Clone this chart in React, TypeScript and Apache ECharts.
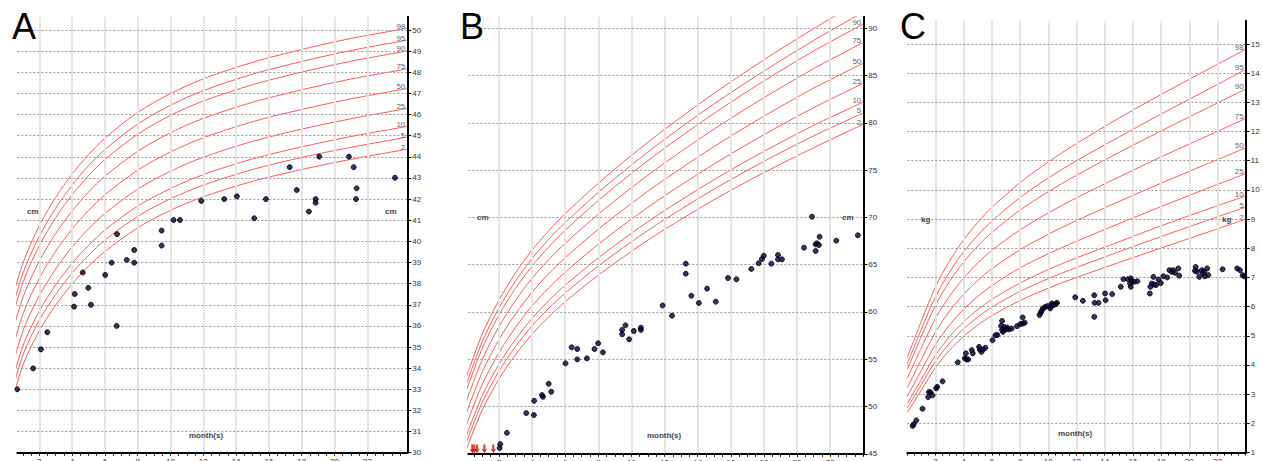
import React, { useEffect, useRef } from 'react';
import * as echarts from 'echarts';

const FONT = 'Liberation Sans, Arial, sans-serif';
const PERCENTILES = ['98', '95', '90', '75', '50', '25', '10', '5', '2'];
const X_LABELS = [2, 4, 6, 8, 10, 12, 14, 16, 18, 20, 22];

// ---------- Panel A : head circumference (cm) ----------
const A_MONTHS = [0, 1, 2, 3, 4, 5, 6, 8, 10, 12, 15, 18, 21, 24, 24.44];
const A_P98 = [36.31, 38.96, 40.74, 42.08, 43.18, 44.1, 44.88, 46.1, 46.99, 47.69, 48.47, 49.08, 49.6, 50.02, 50.08];
const A_P95 = [35.83, 38.48, 40.24, 41.57, 42.66, 43.58, 44.34, 45.55, 46.44, 47.13, 47.91, 48.51, 49.03, 49.46, 49.52];
const A_P90 = [35.4, 38.05, 39.8, 41.12, 42.2, 43.11, 43.87, 45.07, 45.96, 46.64, 47.41, 48.01, 48.52, 48.95, 49.01];
const A_P75 = [34.68, 37.34, 39.07, 40.37, 41.43, 42.33, 43.08, 44.26, 45.14, 45.82, 46.58, 47.17, 47.68, 48.1, 48.16];
const A_P50 = [33.88, 36.55, 38.25, 39.53, 40.58, 41.46, 42.2, 43.37, 44.23, 44.9, 45.66, 46.24, 46.74, 47.17, 47.23];
const A_P25 = [33.08, 35.76, 37.43, 38.69, 39.73, 40.59, 41.32, 42.47, 43.32, 43.98, 44.73, 45.31, 45.8, 46.23, 46.29];
const A_P10 = [32.36, 35.05, 36.7, 37.94, 38.96, 39.81, 40.53, 41.67, 42.5, 43.16, 43.9, 44.47, 44.96, 45.38, 45.44];
const A_P5 = [31.93, 34.62, 36.26, 37.49, 38.5, 39.34, 40.06, 41.18, 42.02, 42.66, 43.4, 43.97, 44.45, 44.87, 44.93];
const A_P2 = [31.45, 34.14, 35.76, 36.98, 37.98, 38.82, 39.52, 40.64, 41.47, 42.11, 42.84, 43.4, 43.88, 44.3, 44.36];
const A_TICKS = [30, 31, 32, 33, 34, 35, 36, 37, 38, 39, 40, 41, 42, 43, 44, 45, 46, 47, 48, 49, 50];
const A_DOT_X = [0.66, 1.63, 2.1, 2.49, 4.12, 4.16, 4.65, 4.99, 5.15, 6.02, 6.41, 6.72, 6.74, 7.33, 7.79, 7.79, 9.46, 9.46, 10.19, 10.58, 11.88, 13.28, 14.05, 15.11, 15.82, 17.27, 17.7, 18.44, 18.85, 18.85, 19.07, 20.88, 21.17, 21.35, 21.31, 23.69];
const A_DOT_Y = [33.0, 33.99, 34.89, 35.7, 36.91, 37.51, 38.53, 37.8, 37.0, 38.41, 38.99, 36.0, 40.34, 39.12, 39.59, 38.99, 40.51, 39.8, 41.01, 41.01, 41.91, 42.0, 42.13, 41.09, 42.0, 43.51, 42.43, 41.41, 42.0, 41.83, 44.01, 44.01, 43.51, 42.51, 42.0, 43.01];

// ---------- Panel B : length (cm) ----------
const B_MONTHS = [0, 1, 2, 3, 4, 5, 6, 8, 10, 12, 15, 18, 21, 24];
const B_P98 = [52.97, 57.7, 61.25, 64.13, 66.54, 68.58, 70.39, 73.61, 76.55, 79.31, 83.14, 86.67, 89.97, 93.04];
const B_P95 = [52.21, 56.9, 60.42, 63.27, 65.65, 67.68, 69.46, 72.64, 75.54, 78.25, 82.02, 85.48, 88.71, 91.72];
const B_P90 = [51.54, 56.19, 59.68, 62.5, 64.86, 66.87, 68.64, 71.78, 74.65, 77.32, 81.02, 84.43, 87.6, 90.45];
const B_P75 = [50.4, 55.0, 58.44, 61.22, 63.55, 65.52, 67.26, 70.34, 73.14, 75.75, 79.36, 82.66, 85.73, 88.5];
const B_P50 = [49.15, 53.69, 57.07, 59.8, 62.09, 64.03, 65.73, 68.75, 71.48, 74.02, 77.51, 80.71, 83.67, 86.3];
const B_P25 = [47.89, 52.37, 55.69, 58.38, 60.63, 62.54, 64.2, 67.16, 69.82, 72.28, 75.66, 78.75, 81.6, 84.2];
const B_P10 = [46.76, 51.18, 54.46, 57.1, 59.32, 61.19, 62.83, 65.72, 68.32, 70.72, 74.0, 76.99, 79.73, 82.2];
const B_P5 = [46.08, 50.47, 53.72, 56.34, 58.53, 60.38, 62.0, 64.86, 67.42, 69.78, 73.0, 75.93, 78.62, 81.05];
const B_P2 = [45.32, 49.67, 52.89, 55.48, 57.64, 59.48, 61.08, 63.89, 66.41, 68.73, 71.88, 74.74, 77.37, 79.85];
const B_TICKS = [45, 50, 55, 60, 65, 70, 75, 80, 85, 90];
const B_DOT_X = [2.04, 2.08, 2.48, 3.65, 4.11, 4.13, 4.6, 4.66, 5.0, 5.16, 6.02, 6.39, 6.73, 6.73, 7.31, 7.77, 7.99, 8.28, 9.44, 9.44, 9.64, 9.86, 10.14, 10.57, 10.57, 11.88, 12.45, 13.28, 13.28, 13.62, 14.07, 14.57, 15.09, 15.83, 16.34, 17.24, 17.68, 17.88, 17.99, 18.45, 18.85, 18.85, 19.09, 20.42, 20.9, 21.12, 21.12, 21.2, 21.32, 21.36, 22.37, 23.67];
const B_DOT_Y = [45.61, 46.03, 47.22, 49.31, 49.1, 50.61, 51.21, 51.03, 52.41, 51.56, 54.57, 56.26, 56.08, 54.99, 55.09, 56.08, 56.69, 55.73, 58.1, 57.64, 58.59, 57.11, 57.99, 58.34, 58.1, 60.69, 59.61, 65.11, 64.05, 61.72, 60.95, 62.47, 61.09, 63.59, 63.46, 64.55, 65.15, 65.6, 65.95, 65.11, 66.03, 65.57, 65.57, 66.8, 70.08, 66.45, 67.16, 67.26, 67.08, 67.96, 67.54, 68.11];
// measurements below the axis range (red arrows)
const B_BELOW_X = [0.39, 0.51, 0.68, 1.12, 1.66];
const B_BELOW_Y = [45.5, 45.5, 45.5, 45.5, 45.5];

// ---------- Panel C : weight (kg) ----------
const C_MONTHS = [0, 1, 2, 3, 4, 5, 6, 8, 10, 12, 15, 18, 21, 24];
const C_P98 = [4.26, 5.51, 6.68, 7.57, 8.29, 8.89, 9.4, 10.25, 10.96, 11.59, 12.46, 13.27, 14.05, 14.82];
const C_P95 = [4.04, 5.23, 6.34, 7.19, 7.88, 8.45, 8.93, 9.74, 10.41, 11.0, 11.81, 12.6, 13.36, 14.13];
const C_P90 = [3.85, 4.98, 6.05, 6.87, 7.53, 8.08, 8.54, 9.31, 9.94, 10.5, 11.28, 12.02, 12.74, 13.46];
const C_P75 = [3.55, 4.59, 5.6, 6.36, 6.98, 7.5, 7.93, 8.63, 9.21, 9.73, 10.44, 11.13, 11.79, 12.45];
const C_P50 = [3.23, 4.19, 5.13, 5.85, 6.42, 6.9, 7.3, 7.95, 8.48, 8.95, 9.6, 10.23, 10.84, 11.44];
const C_P25 = [2.93, 3.82, 4.7, 5.37, 5.91, 6.35, 6.72, 7.33, 7.81, 8.24, 8.84, 9.43, 10.0, 10.56];
const C_P10 = [2.68, 3.5, 4.34, 4.97, 5.48, 5.9, 6.25, 6.81, 7.27, 7.67, 8.22, 8.77, 9.29, 9.79];
const C_P5 = [2.53, 3.33, 4.13, 4.75, 5.24, 5.64, 5.98, 6.52, 6.96, 7.34, 7.88, 8.4, 8.91, 9.41];
const C_P2 = [2.37, 3.14, 3.91, 4.51, 4.98, 5.37, 5.69, 6.21, 6.63, 7.0, 7.51, 8.01, 8.5, 9.0];
const C_TICKS = [1, 2, 3, 4, 5, 6, 7, 8, 9, 10, 11, 12, 13, 14, 15];
const C_DOT_X = [0.38, 0.45, 0.64, 1.08, 1.48, 1.53, 1.65, 1.79, 2.05, 2.12, 2.5, 3.58, 4.08, 4.15, 4.2, 4.32, 4.57, 4.64, 5.09, 5.14, 5.26, 5.38, 5.54, 6.04, 6.25, 6.39, 6.65, 6.72, 6.72, 6.79, 6.9, 7.0, 7.1, 7.2, 7.4, 7.78, 8.02, 8.2, 8.33, 8.18, 9.38, 9.46, 9.53, 9.63, 9.79, 9.95, 10.14, 10.21, 10.26, 10.38, 10.54, 10.62, 11.91, 12.45, 13.26, 13.26, 13.28, 13.56, 14.03, 14.06, 14.53, 15.14, 15.33, 15.64, 15.85, 15.8, 15.92, 16.09, 16.32, 15.85, 17.2, 17.24, 17.34, 17.45, 17.5, 17.64, 17.81, 17.98, 18.16, 18.44, 18.59, 18.75, 18.85, 18.99, 19.22, 19.29, 20.45, 20.4, 20.55, 20.71, 20.88, 20.95, 21.11, 21.27, 21.35, 21.05, 22.36, 23.4, 23.59, 23.78, 23.89];
const C_DOT_Y = [1.91, 1.97, 2.1, 2.5, 2.9, 3.07, 3.06, 2.96, 3.2, 3.25, 3.44, 4.09, 4.23, 4.4, 4.19, 4.19, 4.51, 4.4, 4.62, 4.53, 4.45, 4.53, 4.59, 4.85, 5.02, 5.03, 5.34, 5.51, 5.2, 5.14, 5.3, 5.22, 5.28, 5.22, 5.25, 5.33, 5.4, 5.42, 5.45, 5.63, 5.71, 5.79, 5.86, 5.94, 5.99, 6.02, 5.94, 6.02, 6.11, 6.05, 6.09, 6.13, 6.32, 6.2, 6.39, 5.65, 6.13, 6.13, 6.45, 6.22, 6.43, 6.68, 6.94, 6.94, 6.97, 6.79, 6.87, 6.85, 6.87, 6.68, 6.45, 6.68, 6.79, 7.02, 6.76, 6.74, 6.93, 6.81, 7.04, 7.0, 7.25, 7.19, 7.25, 7.16, 7.31, 7.06, 7.36, 7.23, 7.2, 7.02, 7.25, 7.15, 7.04, 7.31, 7.08, 7.2, 7.28, 7.31, 7.25, 7.08, 7.04];

const ARROW = 'path://M3,0L7,0L7,6L10,6L5,12L0,6L3,6Z';

function pair(xs: number[], ys: number[]) {
  return xs.map((x, i) => [x, ys[i]]);
}

function curveSeries(idx: number, months: number[], curves: number[][], yMax: number) {
  return curves.map((vals, k) => ({
    type: 'line',
    name: PERCENTILES[k],
    xAxisIndex: idx,
    yAxisIndex: idx,
    data: pair(months, vals),
    smooth: 0.3,
    showSymbol: false,
    symbol: 'none',
    silent: true,
    clip: true,
    z: 3,
    lineStyle: { color: '#ff5a5a', width: 1 },
    endLabel: {
      show: vals[vals.length - 1] < yMax,
      formatter: PERCENTILES[k],
      color: '#666',
      fontSize: 8,
      fontFamily: FONT,
      distance: 0,
      align: 'right',
      verticalAlign: 'middle',
      offset: [-2, -2],
    },
  }));
}

function gridSeries(idx: number, x0: number, y0: number, yTicks: number[]) {
  return {
    type: 'line',
    xAxisIndex: idx,
    yAxisIndex: idx,
    data: [[x0, y0]],
    symbol: 'none',
    silent: true,
    z: 1,
    lineStyle: { opacity: 0 },
    markLine: {
      silent: true,
      symbol: ['none', 'none'],
      label: { show: false },
      animation: false,
      data: [
        ...X_LABELS.map((v) => ({ xAxis: v, lineStyle: { color: '#e6e6e6', width: 2, type: 'solid' } })),
        ...yTicks.map((v) => ({ yAxis: v, lineStyle: { color: '#9a9a9a', width: 1, type: [2, 2] } })),
      ],
    },
  };
}

function dotSeries(idx: number, xs: number[], ys: number[]) {
  return {
    type: 'scatter',
    xAxisIndex: idx,
    yAxisIndex: idx,
    data: pair(xs, ys),
    symbolSize: 5,
    silent: true,
    z: 5,
    itemStyle: { color: '#00003c', borderColor: '#000', borderWidth: 1 },
  };
}

function xAxis(idx: number, min: number, max: number) {
  const ticks: number[] = [];
  for (let v = Math.ceil(min * 2) / 2; v <= max + 1e-9; v += 0.5) ticks.push(v);
  return {
    gridIndex: idx,
    type: 'value',
    min,
    max,
    z: 10,
    axisLine: { show: true, onZero: false, lineStyle: { color: '#000', width: 2 } },
    axisTick: { show: true, length: 3, customValues: ticks, lineStyle: { color: '#000', width: 1 } },
    axisLabel: { customValues: X_LABELS, margin: 5, fontSize: 8, color: '#333', fontFamily: FONT },
    splitLine: { show: false },
  };
}

function yAxis(idx: number, min: number, max: number, ticks: number[]) {
  return {
    gridIndex: idx,
    type: 'value',
    position: 'right',
    min,
    max,
    z: 10,
    axisLine: { show: true, onZero: false, lineStyle: { color: '#000', width: 2 } },
    axisTick: { show: true, length: 4, customValues: ticks, lineStyle: { color: '#000', width: 1 } },
    axisLabel: { customValues: ticks, margin: 5, fontSize: 8, color: '#333', fontFamily: FONT },
    splitLine: { show: false },
  };
}

function txt(x: number, y: number, text: string, size: number, opts: any = {}) {
  return {
    type: 'text',
    x,
    y,
    silent: true,
    z: 20,
    style: {
      text,
      fontSize: size,
      fontFamily: FONT,
      fill: opts.fill || '#444',
      fontWeight: opts.bold ? 'bold' : 'normal',
      textAlign: opts.align || 'left',
      textVerticalAlign: 'middle',
    },
  };
}

export default function App() {
  const ref = useRef<HTMLDivElement>(null);
  useEffect(() => {
    if (!ref.current) return;
    const chart = echarts.init(ref.current, undefined, { renderer: 'svg' });
    const A_MAX = 50.63;
    const B_MAX = 91.23;
    const C_MAX = 15.8;
    const option: any = {
      animation: false,
      backgroundColor: '#fff',
      grid: [
        { left: 17.3, top: 16.7, width: 390, height: 436, outerBoundsMode: 'none', containLabel: false },
        { left: 468.3, top: 16.7, width: 395, height: 437.1, outerBoundsMode: 'none', containLabel: false },
        { left: 907.3, top: 20.7, width: 338.4, height: 431.8, outerBoundsMode: 'none', containLabel: false },
      ],
      xAxis: [xAxis(0, 0.66, 24.44), xAxis(1, 0.15, 24), xAxis(2, 0, 24)],
      yAxis: [yAxis(0, 30, A_MAX, A_TICKS), yAxis(1, 45, B_MAX, B_TICKS), yAxis(2, 1, C_MAX, C_TICKS)],
      series: [
        gridSeries(0, 1, 30, A_TICKS),
        gridSeries(1, 1, 45, B_TICKS),
        gridSeries(2, 1, 1, C_TICKS),
        ...curveSeries(0, A_MONTHS, [A_P98, A_P95, A_P90, A_P75, A_P50, A_P25, A_P10, A_P5, A_P2], A_MAX),
        ...curveSeries(1, B_MONTHS, [B_P98, B_P95, B_P90, B_P75, B_P50, B_P25, B_P10, B_P5, B_P2], B_MAX),
        ...curveSeries(2, C_MONTHS, [C_P98, C_P95, C_P90, C_P75, C_P50, C_P25, C_P10, C_P5, C_P2], C_MAX),
        dotSeries(0, A_DOT_X, A_DOT_Y),
        dotSeries(1, B_DOT_X, B_DOT_Y),
        dotSeries(2, C_DOT_X, C_DOT_Y),
        {
          type: 'scatter',
          xAxisIndex: 1,
          yAxisIndex: 1,
          data: pair(B_BELOW_X, B_BELOW_Y),
          symbol: ARROW,
          symbolSize: [5, 9],
          silent: true,
          z: 6,
          itemStyle: { color: '#e00000' },
        },
      ],
      graphic: [
        txt(12, 26.5, 'A', 36, { fill: '#000' }),
        txt(460, 26.5, 'B', 36, { fill: '#000' }),
        txt(900, 26.5, 'C', 36, { fill: '#000' }),
        txt(27, 211, 'cm', 8, { bold: true }),
        txt(385, 211, 'cm', 8, { bold: true }),
        txt(206, 435.5, 'month(s)', 8, { bold: true, align: 'center' }),
        txt(477, 217, 'cm', 8, { bold: true }),
        txt(842, 217, 'cm', 8, { bold: true }),
        txt(664, 435, 'month(s)', 8, { bold: true, align: 'center' }),
        txt(921, 219.5, 'kg', 8, { bold: true }),
        txt(1222, 219.5, 'kg', 8, { bold: true }),
        txt(1075, 433.3, 'month(s)', 8, { bold: true, align: 'center' }),
      ],
    };
    chart.setOption(option);
    return () => chart.dispose();
  }, []);
  return (
    <div
      ref={ref}
      style={{ position: 'absolute', left: 0, top: 0, width: 1263, height: 461, background: '#fff' }}
    />
  );
}
